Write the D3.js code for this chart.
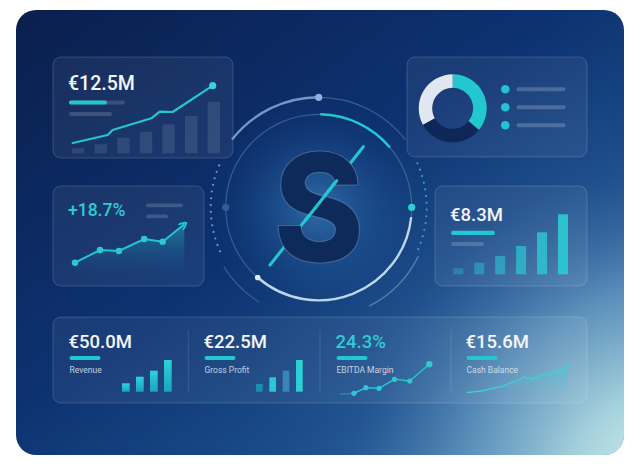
<!DOCTYPE html>
<html><head><meta charset="utf-8">
<script src="https://cdn.jsdelivr.net/npm/d3@7"></script>
<style>html,body{margin:0;padding:0;background:#fff;}svg{display:block;font-family:Roboto,"Noto Sans",sans-serif;}</style>
</head><body>
<script>
// ---------- data ----------
const topCardLabel = "€12.5M";
const topBars = [5, 9, 15.6, 21.6, 29, 37.3, 51.6];
const topLineX = [0, 2.55, 2.9, 5.65, 6.24, 7.16, 10];
const topLineY = [10, 18.3, 23.3, 35, 41.6, 41.3, 67.6];

const growthLabel = "+18.7%";
const growthX = [0, 1.19, 2.09, 3.29, 4.17, 5.2];
const growthY = [10.3, 23, 22, 34, 31.3, 48.7];

const donutShares = [36, 31, 33];

const midCardLabel = "€8.3M";
const midBars = [6, 11.6, 18.3, 28.3, 42, 60];

const kpiLabels = ["Revenue", "Gross Profit", "EBITDA Margin", "Cash Balance"];
const kpiValues = ["€50.0M", "€22.5M", "24.3%", "€15.6M"];
const revenueBars = [8.4, 15, 21, 31.7];
const grossBars = [7.7, 14.4, 21, 31.7];
const ebitdaX = [0, 1, 1.85, 2.8, 3.9, 5, 6.4];
const ebitdaY = [0.7, 1.7, 7.3, 6.7, 15.7, 14, 30.7];
const cashX = [0, 1.5, 2.5, 3.5, 4.2, 5.2, 5.7, 6.5, 7.5, 8.2, 8.8, 9.3, 10];
const cashY = [0, 1.7, 4.3, 6, 9.3, 12.7, 16, 13.7, 18.3, 17.7, 22.7, 21, 28.3];

const W = 640, H = 466;
const teal = "#22c7cf";
const svg = d3.select("body").append("svg").attr("width", W).attr("height", H);
const defs = svg.append("defs");

// ---------- background ----------
const bg = defs.append("linearGradient").attr("id","bg").attr("x1","0").attr("y1","0").attr("x2","1").attr("y2","1");
bg.append("stop").attr("offset","0").attr("stop-color","#0a1f4d");
bg.append("stop").attr("offset","0.45").attr("stop-color","#0d3271");
bg.append("stop").attr("offset","0.75").attr("stop-color","#1c4f8c");
bg.append("stop").attr("offset","1").attr("stop-color","#4583b0");
const glowBR = defs.append("radialGradient").attr("id","glowBR").attr("gradientUnits","userSpaceOnUse")
  .attr("cx",660).attr("cy",480).attr("r",440);
glowBR.append("stop").attr("offset","0").attr("stop-color","#d3f1f0").attr("stop-opacity",1);
glowBR.append("stop").attr("offset","0.2").attr("stop-color","#aad5de").attr("stop-opacity",0.95);
glowBR.append("stop").attr("offset","0.42").attr("stop-color","#76a8cb").attr("stop-opacity",0.7);
glowBR.append("stop").attr("offset","0.7").attr("stop-color","#3567a2").attr("stop-opacity",0.25);
glowBR.append("stop").attr("offset","1").attr("stop-color","#1d4d8c").attr("stop-opacity",0);
const glowC = defs.append("radialGradient").attr("id","glowC").attr("gradientUnits","userSpaceOnUse")
  .attr("cx",318).attr("cy",207).attr("r",110);
glowC.append("stop").attr("offset","0").attr("stop-color","#3d86bf").attr("stop-opacity",0.7);
glowC.append("stop").attr("offset","0.6").attr("stop-color","#235a9a").attr("stop-opacity",0.3);
glowC.append("stop").attr("offset","1").attr("stop-color","#123d7a").attr("stop-opacity",0);

const clip = defs.append("clipPath").attr("id","panelClip");
clip.append("rect").attr("x",16).attr("y",10).attr("width",608).attr("height",445).attr("rx",20);

const panel = svg.append("g").attr("clip-path","url(#panelClip)");
panel.append("rect").attr("x",16).attr("y",10).attr("width",608).attr("height",445).attr("fill","url(#bg)");
panel.append("rect").attr("x",16).attr("y",10).attr("width",608).attr("height",445).attr("fill","url(#glowBR)");
panel.append("circle").attr("cx",318).attr("cy",207).attr("r",110).attr("fill","url(#glowC)");

function card(x,y,w,h){
  return panel.append("rect").attr("x",x).attr("y",y).attr("width",w).attr("height",h).attr("rx",8)
    .attr("fill","rgba(255,255,255,0.06)").attr("stroke","rgba(255,255,255,0.16)").attr("stroke-width",1);
}
function pill(x,y,w,h,c){ panel.append("rect").attr("x",x).attr("y",y).attr("width",w).attr("height",h).attr("rx",h/2).attr("fill",c); }
function bigText(x,y,t,c,fs){
  panel.append("text").attr("x",x).attr("y",y).text(t).attr("fill",c).attr("font-size",fs)
    .attr("font-weight",500).attr("font-family","Roboto, sans-serif");
}

// ---------- card 1: €12.5M ----------
card(53,57,180,101);
bigText(68,90,topCardLabel,"#f3f7fb",19.5);
pill(69,100.5,56,4,"rgba(255,255,255,0.14)");
pill(69,100.5,38,4,teal);
pill(69,112,43,4,"rgba(255,255,255,0.16)");
{
  const x = d3.scaleBand().domain(d3.range(topBars.length)).range([72,220]).paddingInner(0.45);
  const y = d3.scaleLinear().domain([0,70]).range([153.3,83.3]);
  panel.append("g").selectAll("rect").data(topBars).join("rect")
    .attr("x",(d,i)=>x(i)).attr("width",x.bandwidth()).attr("y",d=>y(d)).attr("height",d=>y(0)-y(d))
    .attr("fill","rgba(255,255,255,0.1)");
  const lx = d3.scaleLinear().domain([0,10]).range([71.7,212.7]);
  const pts = topLineX.map((v,i)=>[lx(v), y(topLineY[i])]);
  panel.append("path").attr("d",d3.line()(pts)).attr("fill","none").attr("stroke",teal).attr("stroke-width",2.2).attr("stroke-linejoin","round");
  panel.append("circle").attr("cx",pts[pts.length-1][0]).attr("cy",pts[pts.length-1][1]).attr("r",3.6).attr("fill","#35d6db");
}

// ---------- card 2: +18.7% ----------
card(53,186,151,100);
bigText(68,216,growthLabel,"#2fcdd3",17.5);
pill(146,203.5,37,3.8,"rgba(255,255,255,0.16)");
pill(146,214.5,22,3.8,"rgba(255,255,255,0.16)");
{
  const gx = d3.scaleLinear().domain([0,5.2]).range([75,184.3]);
  const gy = d3.scaleLinear().domain([0,50]).range([273,223]);
  const ag = defs.append("linearGradient").attr("id","ag").attr("x1",0).attr("y1",0).attr("x2",0).attr("y2",1);
  ag.append("stop").attr("offset",0).attr("stop-color","#1fa7bf").attr("stop-opacity",0.55);
  ag.append("stop").attr("offset",1).attr("stop-color","#1a5f96").attr("stop-opacity",0.05);
  const data = growthX.map((v,i)=>({x:v,y:growthY[i]}));
  panel.append("path").datum(data).attr("d",d3.area().x(d=>gx(d.x)).y0(gy(0)).y1(d=>gy(d.y)))
    .attr("fill","url(#ag)");
  defs.append("marker").attr("id","arrow").attr("viewBox","0 0 10 10").attr("refX",6).attr("refY",5)
    .attr("markerWidth",4).attr("markerHeight",4).attr("orient","auto")
    .append("path").attr("d","M0,0 L10,5 L0,10").attr("fill","none").attr("stroke",teal).attr("stroke-width",2.4);
  panel.append("path").datum(data).attr("d",d3.line().x(d=>gx(d.x)).y(d=>gy(d.y)))
    .attr("fill","none").attr("stroke",teal).attr("stroke-width",2).attr("marker-end","url(#arrow)");
  panel.append("g").selectAll("circle").data(data.slice(0,-1)).join("circle")
    .attr("cx",d=>gx(d.x)).attr("cy",d=>gy(d.y)).attr("r",3.2).attr("fill","#2cc9cf");
}

// ---------- card 3: donut ----------
card(407,57,180,100);
{
  const pie = d3.pie().sort(null).value(d=>d);
  const arc = d3.arc().innerRadius(20.5).outerRadius(34);
  const cols = [teal, "#0d2857", "#e1e7f0"];
  panel.append("g").attr("transform","translate(452.7,108.3)").selectAll("path").data(pie(donutShares)).join("path")
    .attr("d",arc).attr("fill",(d,i)=>cols[i]);
  const ly = d3.scalePoint().domain(d3.range(donutShares.length)).range([89.3,125.3]);
  donutShares.forEach((d,i)=>{
    panel.append("circle").attr("cx",505.3).attr("cy",ly(i)).attr("r",4.3).attr("fill","#22c4cd");
    pill(516.5,ly(i)-2,49,4,"rgba(255,255,255,0.2)");
  });
}

// ---------- card 4: €8.3M ----------
card(435,186,152,100);
bigText(450,221,midCardLabel,"#f3f7fb",18.5);
pill(451,230.8,44,4.2,teal);
pill(451,242,33,4,"rgba(255,255,255,0.18)");
{
  const x = d3.scaleBand().domain(d3.range(midBars.length)).range([453.3,568]).paddingInner(0.52);
  const y = d3.scaleLinear().domain([0,60]).range([274.3,214.3]);
  const op = d3.scaleLinear().domain([0,midBars.length-1]).range([0.35,0.95]);
  panel.append("g").selectAll("rect").data(midBars).join("rect")
    .attr("x",(d,i)=>x(i)).attr("width",x.bandwidth()).attr("y",d=>y(d)).attr("height",d=>y(0)-y(d))
    .attr("fill","#2cc6d2").attr("fill-opacity",(d,i)=>op(i));
}

// ---------- center emblem ----------
{
  const g = panel.append("g").attr("transform","translate(318.7,207.3)");
  const arcR = (r0,a0,a1)=>d3.arc().innerRadius(r0).outerRadius(r0).startAngle(a0*Math.PI/180).endAngle(a1*Math.PI/180)();
  g.append("circle").attr("r",93).attr("fill","none").attr("stroke","rgba(170,200,235,0.28)").attr("stroke-width",1.2);
  g.append("path").attr("d",arcR(110,-52,0)).attr("fill","none").attr("stroke","#6f97c8").attr("stroke-width",2.4).attr("stroke-linecap","round");
  g.append("path").attr("d",arcR(110,0,52)).attr("fill","none").attr("stroke","rgba(150,180,220,0.35)").attr("stroke-width",1.2);
  g.append("path").attr("d",arcR(112,212,238)).attr("fill","none").attr("stroke","rgba(150,180,220,0.3)").attr("stroke-width",1.2);
  g.append("path").attr("d",arcR(111,116,153)).attr("fill","none").attr("stroke","rgba(160,195,230,0.45)").attr("stroke-width",1.4);
  g.append("path").attr("d",arcR(93,1,50)).attr("fill","none").attr("stroke",teal).attr("stroke-width",2.6);
  g.append("path").attr("d",arcR(93,96,221)).attr("fill","none").attr("stroke","rgba(215,235,250,0.85)").attr("stroke-width",2.4);
  const dots = d3.range(-24, 25, 3.6);
  dots.forEach(a=>{
    const rad = (270+a)*Math.PI/180, rad2=(90+a)*Math.PI/180;
    g.append("circle").attr("cx",108*Math.sin(rad)).attr("cy",-108*Math.cos(rad)).attr("r",1.1).attr("fill","rgba(120,200,235,0.75)");
    g.append("circle").attr("cx",108*Math.sin(rad2)).attr("cy",-108*Math.cos(rad2)).attr("r",1.1).attr("fill","rgba(70,200,225,0.7)");
  });
  g.append("circle").attr("cx",0).attr("cy",-110).attr("r",3.6).attr("fill","#8fb0d8");
  g.append("circle").attr("cx",93).attr("cy",0).attr("r",3.6).attr("fill","#2ad0d6");
  g.append("circle").attr("cx",-93).attr("cy",0).attr("r",3.6).attr("fill","#2f5e93");
  g.append("circle").attr("cx",93*Math.sin(221*Math.PI/180)).attr("cy",-93*Math.cos(221*Math.PI/180)).attr("r",2.8).attr("fill","#dcebf7");
  g.append("line").attr("x1",44.6).attr("y1",-60.6).attr("x2",-48.7).attr("y2",57.7).attr("stroke",teal).attr("stroke-width",3).attr("stroke-linecap","round");
  g.append("text").text("S").attr("x",0).attr("y",55).attr("text-anchor","middle")
    .attr("font-family","Inter, Roboto, sans-serif").attr("font-weight",800).attr("font-size",150)
    .attr("transform","scale(0.92,1)")
    .attr("fill","#0d2a5a").attr("stroke","rgba(140,180,225,0.35)").attr("stroke-width",1.2);
  g.append("line").attr("x1",18).attr("y1",-26.6).attr("x2",-14).attr("y2",14).attr("stroke",teal).attr("stroke-width",3).attr("stroke-linecap","round");
}

// ---------- bottom KPI card ----------
card(53,317,534,86);
[188.3,320,451].forEach(x=>panel.append("line").attr("x1",x).attr("x2",x).attr("y1",330).attr("y2",392).attr("stroke","rgba(255,255,255,0.12)"));
const kpiX = [68.5, 203.5, 335.5, 465.5];
kpiValues.forEach((v,i)=>{
  bigText(kpiX[i],348.3,v, i===2 ? "#2fcdd3" : "#f3f7fb",18.5);
  pill(kpiX[i]+1,356,31,4,teal);
  panel.append("text").attr("x",kpiX[i]+1).attr("y",372.5).text(kpiLabels[i]).attr("fill","rgba(225,235,245,0.85)")
    .attr("font-size",8.5).attr("font-family","Roboto, sans-serif");
});
{
  const y = d3.scaleLinear().domain([0,32]).range([391.7,359.7]);
  const x1 = d3.scaleBand().domain(d3.range(4)).range([122,171.7]).paddingInner(0.45);
  const rg = defs.append("linearGradient").attr("id","rg").attr("x1",0).attr("y1",0).attr("x2",0).attr("y2",1);
  rg.append("stop").attr("offset",0).attr("stop-color","#2dd3d8");
  rg.append("stop").attr("offset",1).attr("stop-color","#1aa3bf");
  panel.append("g").selectAll("rect").data(revenueBars).join("rect")
    .attr("x",(d,i)=>x1(i)).attr("width",x1.bandwidth()).attr("y",d=>y(d)).attr("height",d=>y(0)-y(d)).attr("fill","url(#rg)");
  const x2 = d3.scaleBand().domain(d3.range(4)).range([256,302.7]).paddingInner(0.5);
  const gcols = ["#1a8db3","#2cc8d2","#3b86b8","#2dd0d6"];
  panel.append("g").selectAll("rect").data(grossBars).join("rect")
    .attr("x",(d,i)=>x2(i)).attr("width",x2.bandwidth()).attr("y",d=>y(d)).attr("height",d=>y(0)-y(d)).attr("fill",(d,i)=>gcols[i]);

  const ex = d3.scaleLinear().domain([0,6.4]).range([340,429.3]);
  const ey = d3.scaleLinear().domain([0,31]).range([395,364]);
  const ed = ebitdaX.map((v,i)=>[ex(v),ey(ebitdaY[i])]);
  panel.append("path").attr("d",d3.line()(ed.slice(0,2))).attr("stroke","rgba(45,200,210,0.4)").attr("stroke-width",1.5).attr("fill","none");
  panel.append("path").attr("d",d3.line()(ed.slice(1))).attr("stroke",teal).attr("stroke-width",1.5).attr("fill","none");
  panel.append("g").selectAll("circle").data(ed.slice(1)).join("circle")
    .attr("cx",d=>d[0]).attr("cy",d=>d[1]).attr("r",(d,i)=> i===ed.length-2 ? 3.2 : 2.6).attr("fill","#2cc9cf");

  const cx = d3.scaleLinear().domain([0,10]).range([466.7,567.3]);
  const cy = d3.scaleLinear().domain([0,28.3]).range([392.7,364.3]);
  const cg = defs.append("linearGradient").attr("id","cg").attr("x1",0).attr("y1",0).attr("x2",0).attr("y2",1);
  cg.append("stop").attr("offset",0).attr("stop-color","#3ccfd6").attr("stop-opacity",0.55);
  cg.append("stop").attr("offset",1).attr("stop-color","#5fb5cf").attr("stop-opacity",0.05);
  const cd = cashX.map((v,i)=>({x:v,y:cashY[i]}));
  panel.append("path").datum(cd).attr("d",d3.area().x(d=>cx(d.x)).y0(cy(0)).y1(d=>cy(d.y))).attr("fill","url(#cg)");
  panel.append("path").datum(cd).attr("d",d3.line().x(d=>cx(d.x)).y(d=>cy(d.y))).attr("fill","none").attr("stroke","#3fd0d6").attr("stroke-width",1.3);
}
</script>
</body></html>
